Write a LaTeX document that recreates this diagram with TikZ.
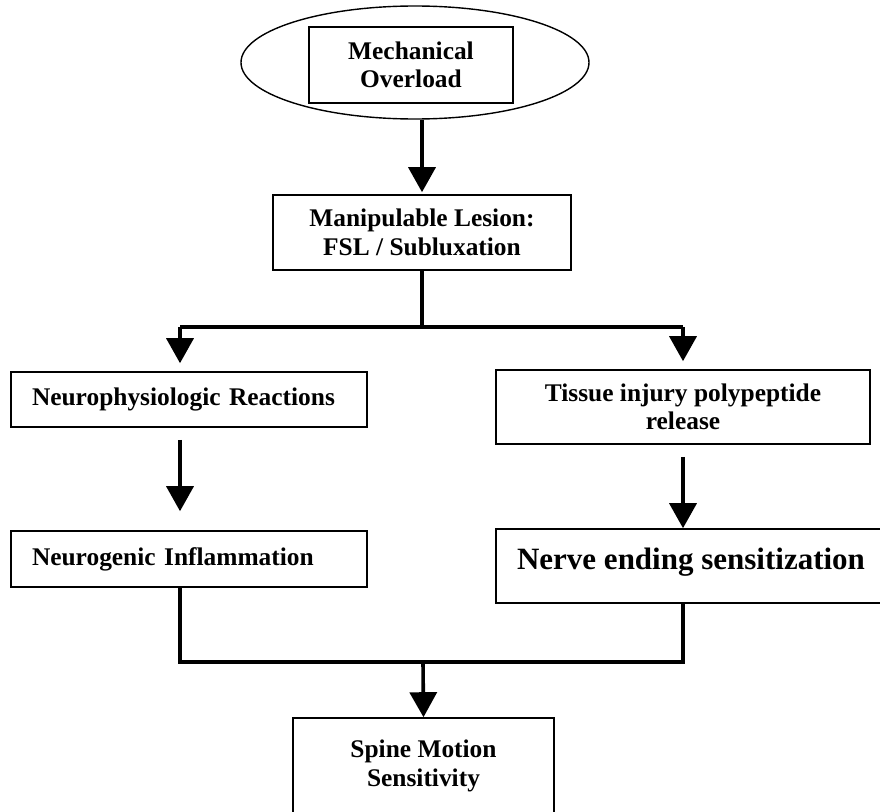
\documentclass[tikz,border=0pt]{standalone}
\usepackage{fontspec}
\setmainfont{Liberation Serif}
\usetikzlibrary{shapes.geometric,arrows.meta}

\begin{document}
\begin{tikzpicture}[x=1pt,y=-1pt,
  every node/.style={font=\bfseries\fontsize{25.4}{28.5}\selectfont},
  box/.style={draw,line width=1.6pt,rectangle,inner sep=0pt,align=center},
  leftbox/.style={draw,line width=1.6pt,rectangle,inner ysep=0pt,inner xsep=21pt,
                  text width=314pt,align=left},
  conn/.style={line width=3.6pt},
  arr/.style={line width=3.6pt,-{Triangle[length=25pt,width=27pt]}}
]
\useasboundingbox (0,0) rectangle (880,811);
\clip (0,0) rectangle (880,811);

% top: overload inside an ellipse
\node[draw,ellipse,line width=1.4pt,minimum width=348pt,minimum height=113pt,inner sep=0pt]
  (ell) at (415,62.5) {};
\node[box,minimum width=204pt,minimum height=76pt] (mech) at (411,65) {Mechanical\\Overload};

\node[box,minimum width=298pt,minimum height=75pt] (manip) at (422,232.5)
  {Manipulable Lesion:\\FSL / Subluxation};

% left branch
\node[leftbox,minimum height=55pt] (neuro) at (189,399.5) {Neurophysiologic Reactions};
\node[leftbox,minimum height=56pt] (inflam) at (189,559) {Neurogenic Inflammation};

% right branch
\node[box,minimum width=374pt,minimum height=74pt] (tissue) at (683,407)
  {Tissue injury polypeptide\\release};
\node[box,minimum width=390pt,minimum height=74pt,text height=20pt,text depth=14pt,
      font=\bfseries\fontsize{31}{34}\selectfont] (nerve) at (691,566)
  {Nerve ending sensitization};

% result
\node[box,minimum width=261pt,minimum height=96pt] (spine) at (423.5,766)
  {Spine Motion\\Sensitivity};

% junction points
\coordinate (split)  at (422,327);
\coordinate (lsplit) at (180,327);
\coordinate (rsplit) at (683,327);
\coordinate (join)   at (423,662);
\coordinate (ljoin)  at (180,662);
\coordinate (rjoin)  at (683,662);

% connectors
\draw[arr] (ell.south -| manip.north) -- ([yshift=2pt]manip.north);
\draw[conn] (manip.south) -- (split);
\draw[conn] (lsplit) -- (rsplit);
\draw[arr] (lsplit) -- ([yshift=8pt]neuro.north -| lsplit);
\draw[arr] (rsplit) -- ([yshift=8pt]tissue.north -| rsplit);
\draw[arr] ([yshift=-12pt]neuro.south -| lsplit) -- ([yshift=19pt]inflam.north -| lsplit);
\draw[arr] ([yshift=-12pt]tissue.south) -- (nerve.north -| tissue.south);
\draw[conn] (inflam.south -| ljoin) -- (ljoin) -- (rjoin) -- (nerve.south -| rjoin);
\draw[arr] (join) -- (spine.north);
\end{tikzpicture}
\end{document}
